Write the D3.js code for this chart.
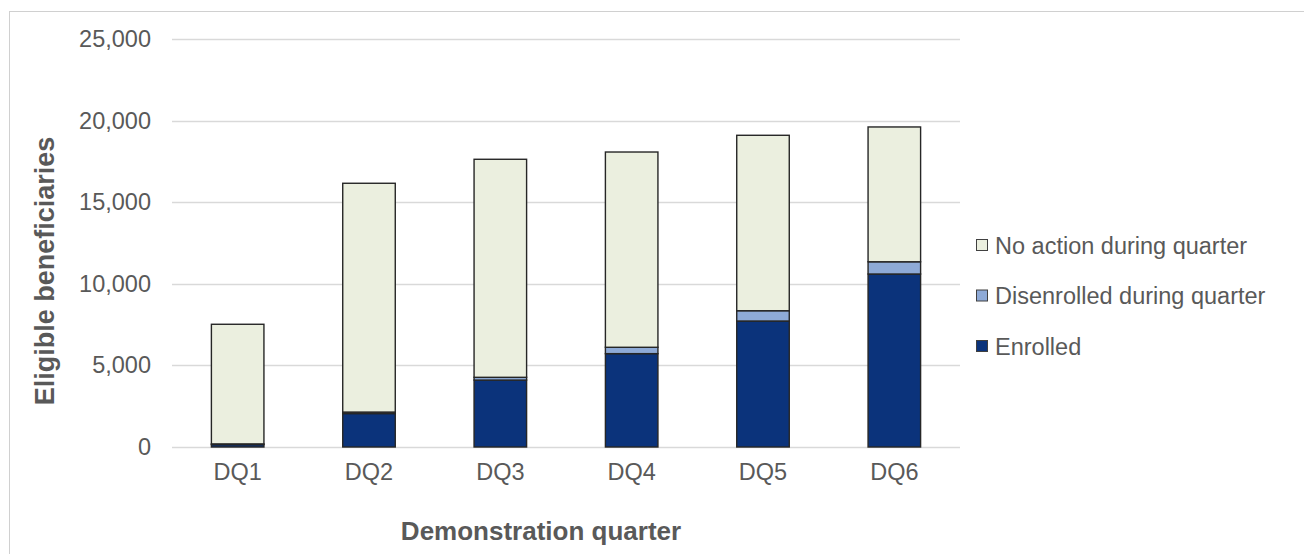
<!DOCTYPE html>
<html>
<head>
<meta charset="utf-8">
<script src="https://cdn.jsdelivr.net/npm/d3@7"></script>
<style>
    body { margin: 0; background: #fff; }
    text { font-family: Arial, "Liberation Sans", sans-serif; fill: #595959; }
</style>
</head>
<body>
<div id="chart"></div>
<script>
// Data
const quarters = ['DQ1', 'DQ2', 'DQ3', 'DQ4', 'DQ5', 'DQ6'];
const enrolled = [150, 2050, 4100, 5720, 7720, 10600];
const disenrolled = [40, 90, 170, 390, 630, 750];
const noAction = [7330, 14020, 13360, 11965, 10750, 8260];
const seriesNames = ['Enrolled', 'Disenrolled during quarter', 'No action during quarter'];
const seriesColors = ['#0b337b', '#8eaad7', '#ebefdf'];
const yTicks = [0, 5000, 10000, 15000, 20000, 25000];

const width = 1304, height = 554;
const margins = { top: 39, right: 344, bottom: 107, left: 172 };
const plotWidth = width - margins.left - margins.right;
const plotHeight = height - margins.top - margins.bottom;

const svg = d3.select('#chart').append('svg')
    .attr('width', width)
    .attr('height', height);

// outer chart border
svg.append('rect')
    .attr('x', 9.5).attr('y', 11.5)
    .attr('width', 1310).attr('height', 560)
    .attr('fill', 'none')
    .attr('stroke', '#d0d0d0');

const plotArea = svg.append('g')
    .attr('transform', `translate(${margins.left},${margins.top})`);

const x = d3.scaleBand()
    .domain(quarters)
    .range([0, plotWidth])
    .paddingInner(0.6)
    .paddingOuter(0.3);

const y = d3.scaleLinear()
    .domain([0, 25000])
    .range([plotHeight, 0]);

// gridlines
plotArea.selectAll('.grid')
    .data(yTicks)
    .enter().append('line')
    .attr('class', 'grid')
    .attr('x1', 0).attr('x2', plotWidth)
    .attr('y1', d => Math.round(y(d)) + 0.5)
    .attr('y2', d => Math.round(y(d)) + 0.5)
    .attr('stroke', '#d9d9d9')
    .attr('stroke-width', 1.3);

// y axis labels
const yAxis = plotArea.append('g')
    .call(d3.axisLeft(y).tickValues(yTicks).tickFormat(d3.format(',')).tickSize(0).tickPadding(21));
yAxis.select('.domain').remove();
yAxis.selectAll('text')
    .style('font-size', '23.5px')
    .attr('fill', '#595959');

// x axis labels
const xAxis = plotArea.append('g')
    .attr('transform', `translate(0,${plotHeight})`)
    .call(d3.axisBottom(x).tickSize(0).tickPadding(16));
xAxis.select('.domain').remove();
xAxis.selectAll('text')
    .style('font-size', '23.5px')
    .attr('fill', '#595959');

// stacked bars
const rows = quarters.map((q, i) => ({
    quarter: q,
    'Enrolled': enrolled[i],
    'Disenrolled during quarter': disenrolled[i],
    'No action during quarter': noAction[i]
}));
const stack = d3.stack().keys(seriesNames)(rows);

plotArea.selectAll('.series')
    .data(stack)
    .enter().append('g')
    .attr('class', 'series')
    .attr('fill', (d, i) => seriesColors[i])
    .selectAll('rect')
    .data(d => d)
    .enter().append('rect')
    .attr('x', d => x(d.data.quarter))
    .attr('y', d => y(d[1]))
    .attr('width', x.bandwidth())
    .attr('height', d => y(d[0]) - y(d[1]))
    .attr('stroke', '#262626')
    .attr('stroke-width', 1.4);

// axis titles
svg.append('text')
    .attr('x', 541)
    .attr('y', 540)
    .attr('text-anchor', 'middle')
    .style('font-size', '26px')
    .style('font-weight', 'bold')
    .text('Demonstration quarter');

svg.append('text')
    .attr('transform', 'rotate(-90)')
    .attr('x', -271)
    .attr('y', 54)
    .attr('text-anchor', 'middle')
    .style('font-size', '27px')
    .style('font-weight', 'bold')
    .text('Eligible beneficiaries');

// legend (reverse order, top = no action)
const legendItems = seriesNames.slice().reverse();
const legendColors = seriesColors.slice().reverse();
const legend = svg.append('g')
    .attr('transform', 'translate(976,245)');

legendItems.forEach((name, i) => {
    const row = legend.append('g')
        .attr('transform', `translate(0,${i * 50.5})`);
    row.append('rect')
        .attr('x', 0.5).attr('y', -5.5)
        .attr('width', 11).attr('height', 11)
        .attr('fill', legendColors[i])
        .attr('stroke', '#404040')
        .attr('stroke-width', 1);
    row.append('text')
        .attr('x', 19)
        .attr('y', 8.5)
        .style('font-size', '23.5px')
        .text(name);
});
</script>
</body>
</html>
